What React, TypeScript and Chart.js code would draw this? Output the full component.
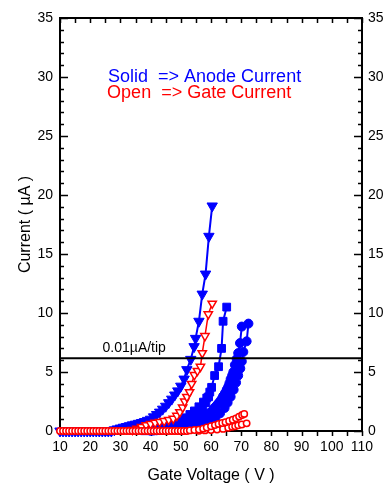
import { useEffect, useRef } from 'react';
import { Chart, registerables } from 'chart.js';

Chart.register(...registerables);

const FONT = "'Liberation Sans', Arial, Helvetica, sans-serif";
const BLUE = '#0000ff';
const RED = '#ff0000';

// Axis ranges and tick labels
const xRange = [10, 110];
const yRange = [0, 35];
const xTickStep = 10;
const yTickStep = 5;
const xMinorStep = 5;
const yMinorStep = 1;

// Anode current, solid down-triangles
const triAnodeV = [10, 11, 12, 13, 14, 15, 16, 17, 18, 19, 20, 21, 22, 23, 24, 25, 26, 27, 28, 29, 30, 31, 32, 33, 34, 35, 36, 37, 38, 39, 40, 41, 42, 43, 44, 45, 46, 47, 48, 49, 50, 51.1, 52, 53.3, 54.4, 54.9, 56, 57.1, 58.2, 59.3, 60.4];
const triAnodeI = [0, 0, 0, 0, 0, 0, 0, 0, 0, 0, 0, 0, 0, 0, 0, 0, 0, 0, 0.1, 0.18, 0.25, 0.32, 0.38, 0.45, 0.52, 0.58, 0.65, 0.72, 0.8, 0.9, 1.0, 1.2, 1.4, 1.6, 1.85, 2.1, 2.4, 2.7, 3.05, 3.4, 3.8, 4.4, 5.2, 6.07, 7.15, 7.85, 9.3, 11.6, 13.3, 16.5, 19.07];

// Gate current, open down-triangles
const triGateV = [34, 35.5, 37, 38.5, 40, 41.5, 43, 44.5, 46, 47.5, 48.7, 49.7, 50.6, 51.3, 52, 52.9, 53.6, 54.5, 55.5, 56.5, 57.1, 58, 59.1, 60.4];
const triGateI = [0.1, 0.2, 0.35, 0.5, 0.6, 0.7, 0.78, 0.85, 0.95, 1.05, 1.3, 1.6, 2.0, 2.5, 2.9, 3.3, 4.0, 4.75, 5.1, 5.45, 6.6, 8.05, 9.9, 10.8];

// Anode current, solid squares (two sweeps)
const sqAnodeV = [38, 40, 42, 44, 46, 48, 49.5, 51, 52.5, 53.8, 55, 56.2, 57.3, 58.3, 59.2, 60.2, 61.2, 62.5, 63.5, 64, 65.2];
const sqAnodeI = [0.02, 0.08, 0.15, 0.25, 0.35, 0.5, 0.62, 0.8, 1.0, 1.2, 1.45, 1.7, 2.0, 2.4, 2.9, 3.7, 4.7, 5.45, 7.0, 9.3, 10.5];
const sqAnodeBV = [42, 44, 46, 48, 50, 51.5, 53, 54.5, 56, 57.5, 58.6, 59.6];
const sqAnodeBI = [0.2, 0.32, 0.48, 0.68, 0.9, 1.12, 1.4, 1.7, 2.05, 2.45, 2.8, 3.3];

// Anode current, solid circles (two sweeps)
const circAnodeAV = [40, 41, 42, 43, 44, 45, 46, 47, 48, 49, 50, 51, 52, 53, 54, 55, 55.8, 56.5, 57.2, 58, 58.7, 59.4, 60.2, 60.8, 61.3, 62, 62.5, 63, 63.5, 64, 64.6, 65.2, 65.7, 66.1, 66.5, 67, 67.4, 67.9, 68.5, 69, 69.6, 70.2];
const circAnodeAI = [0.02, 0.04, 0.06, 0.08, 0.1, 0.14, 0.18, 0.23, 0.28, 0.34, 0.4, 0.47, 0.55, 0.63, 0.72, 0.82, 0.9, 1.0, 1.12, 1.25, 1.38, 1.5, 1.65, 1.85, 2.0, 2.2, 2.35, 2.5, 2.7, 2.95, 3.2, 3.5, 3.75, 4.05, 4.4, 4.7, 5.0, 5.6, 6.1, 6.6, 7.45, 8.85];
const circAnodeBV = [50, 52, 54, 56, 58, 60, 61.5, 63, 64.5, 65.5, 66.5, 67.5, 68.3, 69, 69.7, 70.2, 70.7, 71.8, 72.4];
const circAnodeBI = [0.1, 0.2, 0.3, 0.45, 0.65, 0.9, 1.15, 1.5, 1.95, 2.4, 2.9, 3.5, 4.1, 4.7, 5.3, 5.9, 6.7, 7.6, 9.1];

// Gate current, open circles (two sweeps)
const circGateAV = [10, 11, 12, 13, 14, 15, 16, 17, 18, 19, 20, 21, 22, 23, 24, 25, 26, 27, 28, 29, 30, 31, 32, 33, 34, 35, 36, 37, 38, 39, 40, 41, 42, 43, 44, 45, 46, 47, 48, 49, 50, 51, 52, 53, 54.5, 56, 57.4, 58.6, 60, 61.3, 62.5, 63.7, 64.8, 66, 67.2, 68.3, 69.3, 70.3, 71];
const circGateAI = [0, 0, 0, 0, 0, 0, 0, 0, 0, 0, 0, 0, 0, 0, 0, 0, 0, 0, 0, 0, 0, 0, 0, 0, 0, 0, 0, 0, 0, 0, 0, 0, 0, 0, 0, 0, 0, 0, 0, 0, 0, 0, 0, 0.05, 0.08, 0.12, 0.2, 0.3, 0.4, 0.5, 0.6, 0.68, 0.75, 0.85, 0.95, 1.07, 1.22, 1.36, 1.45];
const circGateBV = [56, 58, 60, 62, 64, 65.7, 67, 68, 69, 70.2, 71.8];
const circGateBI = [0.02, 0.05, 0.08, 0.12, 0.18, 0.28, 0.35, 0.4, 0.48, 0.55, 0.65];

// Reference level and annotations
const refLevel = 6.16;
const refLabel = '0.01\u00b5A/tip';
const refLabelPos = [24.1, 7.03];
const legendLines = ['Solid  => Anode Current', 'Open  => Gate Current'];
const legendPos = [[25.9, 30.0], [25.6, 28.64]];

const pts = (xs: number[], ys: number[]) => xs.map((x, i) => ({ x, y: ys[i] }));

const framePlugin = {
  id: 'frame',
  beforeDatasetsDraw(chart: any) {
    const { ctx, chartArea, scales } = chart;
    const { left, right, top, bottom } = chartArea;
    const x = scales.x;
    const y = scales.y;
    ctx.save();
    ctx.strokeStyle = '#000';
    ctx.lineWidth = 2;
    ctx.beginPath();
    ctx.rect(left, top, right - left, bottom - top);
    ctx.stroke();
    ctx.lineWidth = 1.5;
    ctx.beginPath();
    for (let v = xRange[0]; v <= xRange[1]; v += xMinorStep) {
      const px = Math.round(x.getPixelForValue(v)) + 0.5;
      ctx.moveTo(px, bottom);
      ctx.lineTo(px, bottom + 5);
      ctx.moveTo(px, top);
      ctx.lineTo(px, top + 5);
    }
    for (let v = yRange[0]; v <= yRange[1]; v += yMinorStep) {
      const py = Math.round(y.getPixelForValue(v)) + 0.5;
      const len = v % yTickStep === 0 ? 8 : 4;
      ctx.moveTo(left, py);
      ctx.lineTo(left + len, py);
      ctx.moveTo(right, py);
      ctx.lineTo(right - len, py);
    }
    ctx.stroke();
    ctx.restore();
  },
  afterDatasetsDraw(chart: any) {
    const { ctx, chartArea, scales } = chart;
    const { left, right } = chartArea;
    const x = scales.x;
    const y = scales.y;
    ctx.save();
    ctx.strokeStyle = '#000';
    ctx.lineWidth = 2;
    const py = y.getPixelForValue(refLevel);
    ctx.beginPath();
    ctx.moveTo(left, py);
    ctx.lineTo(right, py);
    ctx.stroke();
    ctx.textBaseline = 'middle';
    ctx.textAlign = 'left';
    ctx.fillStyle = '#000';
    ctx.font = `14px ${FONT}`;
    ctx.fillText(refLabel, x.getPixelForValue(refLabelPos[0]), y.getPixelForValue(refLabelPos[1]));
    ctx.font = `18px ${FONT}`;
    ctx.fillStyle = BLUE;
    ctx.fillText(legendLines[0], x.getPixelForValue(legendPos[0][0]), y.getPixelForValue(legendPos[0][1]));
    ctx.fillStyle = RED;
    ctx.fillText(legendLines[1], x.getPixelForValue(legendPos[1][0]), y.getPixelForValue(legendPos[1][1]));
    ctx.restore();
  },
};

const openCircle = (xs: number[], ys: number[]) => ({
  data: pts(xs, ys),
  pointStyle: 'circle',
  pointRadius: 3.2,
  borderColor: RED,
  backgroundColor: '#fff',
  pointBorderWidth: 1.5,
  showLine: false,
  clip: false,
});

const solid = (xs: number[], ys: number[], style: string, radius: number, line: boolean, rotation = 0) => ({
  data: pts(xs, ys),
  pointStyle: style,
  rotation,
  pointRadius: radius,
  borderColor: BLUE,
  backgroundColor: BLUE,
  pointBorderWidth: 1,
  showLine: line,
  borderWidth: 2,
  clip: false,
});

export default function App() {
  const ref = useRef<HTMLCanvasElement>(null);
  useEffect(() => {
    document.body.style.margin = '0';
    const tickFont = { size: 14, family: FONT };
    const titleFont = { size: 16, family: FONT };
    const chart = new Chart(ref.current as HTMLCanvasElement, {
      type: 'scatter',
      data: {
        datasets: [
          openCircle(circGateAV, circGateAI),
          openCircle(circGateBV, circGateBI),
          {
            data: pts(triGateV, triGateI),
            pointStyle: 'triangle',
            rotation: 180,
            pointRadius: 4.8,
            borderColor: RED,
            backgroundColor: '#fff',
            pointBorderWidth: 1.5,
            showLine: true,
            borderWidth: 1.5,
            clip: false,
          },
          solid(triAnodeV, triAnodeI, 'triangle', 6, true, 180),
          solid(sqAnodeV, sqAnodeI, 'rect', 5.5, true),
          solid(sqAnodeBV, sqAnodeBI, 'rect', 5.5, false),
          solid(circAnodeAV, circAnodeAI, 'circle', 4.5, true),
          solid(circAnodeBV, circAnodeBI, 'circle', 4.5, true),
        ] as any,
      },
      options: {
        animation: false,
        responsive: false,
        maintainAspectRatio: false,
        layout: { padding: { top: 18, left: 0, right: 0, bottom: 0 } },
        plugins: { legend: { display: false }, tooltip: { enabled: false } },
        scales: {
          x: {
            type: 'linear',
            min: xRange[0],
            max: xRange[1],
            ticks: { stepSize: xTickStep, color: '#000', font: tickFont, padding: 8, maxRotation: 0, autoSkip: false },
            grid: { display: false, drawTicks: false },
            border: { display: false },
            title: { display: true, text: 'Gate Voltage ( V )', color: '#000', font: titleFont, padding: { top: 0, bottom: 1 } },
            afterFit: (s: any) => { s.height = 55; },
          },
          y: {
            type: 'linear',
            position: 'left',
            min: yRange[0],
            max: yRange[1],
            ticks: { stepSize: yTickStep, color: '#000', font: tickFont, padding: 7 },
            grid: { display: false, drawTicks: false },
            border: { display: false },
            title: { display: true, text: 'Current ( \u00b5A )', color: '#000', font: titleFont, padding: { top: 16, bottom: 0 } },
            afterFit: (s: any) => { s.width = 60; },
          },
          y2: {
            type: 'linear',
            position: 'right',
            min: yRange[0],
            max: yRange[1],
            ticks: { stepSize: yTickStep, color: '#000', font: tickFont, padding: 6 },
            grid: { display: false, drawTicks: false },
            border: { display: false },
            afterFit: (s: any) => { s.width = 23; },
          },
        },
      } as any,
      plugins: [framePlugin],
    });
    return () => chart.destroy();
  }, []);
  return (
    <div style={{ width: 385, height: 486 }}>
      <canvas ref={ref} width={385} height={486} style={{ display: 'block' }} />
    </div>
  );
}
